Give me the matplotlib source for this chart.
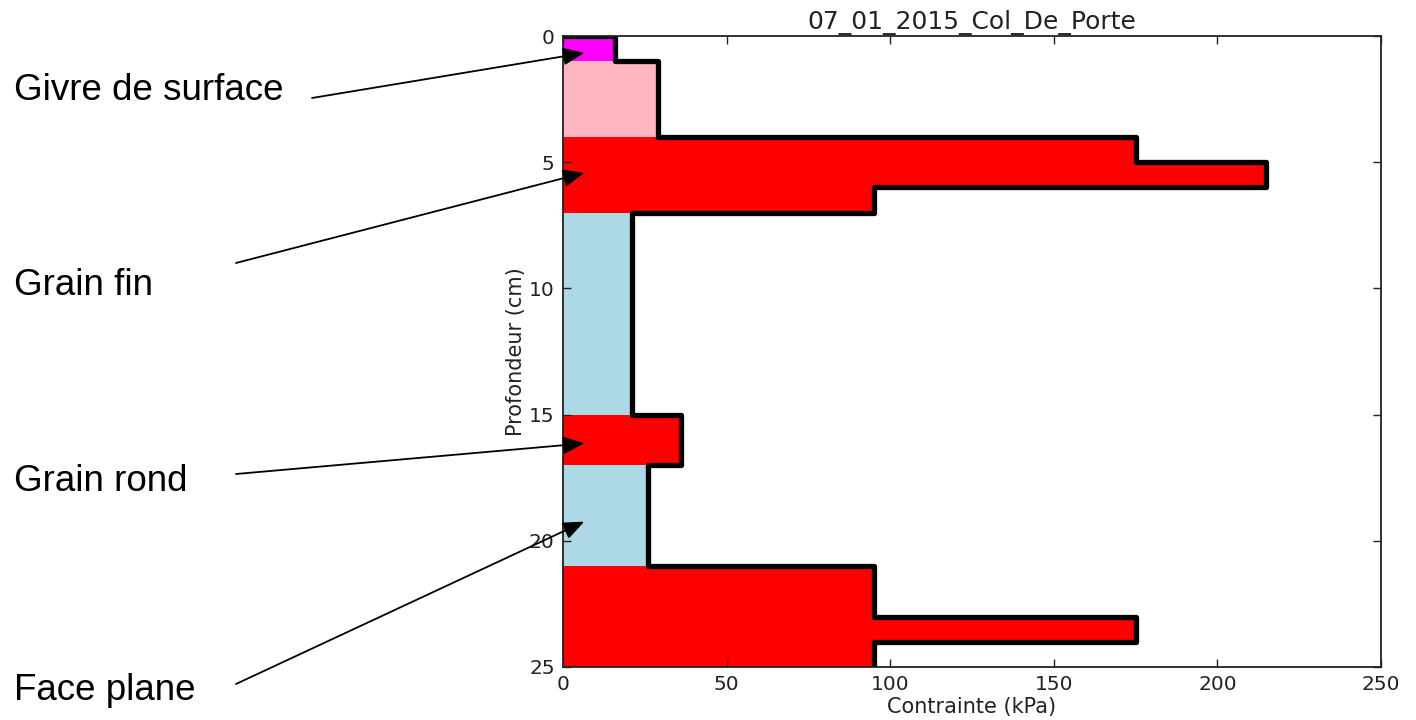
import matplotlib
matplotlib.use('Agg')
import matplotlib.pyplot as plt

# couches du profil (cm) et contrainte (kPa)
tops = [0, 1, 4, 5, 6, 7, 15, 17, 21, 23, 24]
bottoms = [1, 4, 5, 6, 7, 15, 17, 21, 23, 24, 25]
stress = [16, 29, 175, 215, 95, 21, 36, 26, 95, 175, 95]
colors = ['#ff00ff', '#ffb6c1', '#ff0000', '#ff0000', '#ff0000', '#add8e6',
          '#ff0000', '#add8e6', '#ff0000', '#ff0000', '#ff0000']

title = '07_01_2015_Col_De_Porte'

# légendes à gauche : texte, point visé (x kPa, y cm)
labels = ['Givre de surface', 'Grain fin', 'Grain rond', 'Face plane']
target_x = [6.5, 6.5, 6.5, 6.5]
target_y = [0.67, 5.42, 16.14, 19.24]

W, H = 1416, 720
fig = plt.figure(figsize=(W / 100, H / 100), dpi=100)
ax = fig.add_axes([563 / W, 1 - 667 / H, 818 / W, 631 / H])

heights = [b - t for t, b in zip(tops, bottoms)]
ax.barh(tops, stress, height=heights, left=0, align='edge',
        color=colors, edgecolor='none', linewidth=0)

# contour en escalier
xs, ys = [0], [0]
for t, b, v in zip(tops, bottoms, stress):
    xs += [v, v]
    ys += [t, b]
ax.plot(xs, ys, color='black', lw=3.8, solid_joinstyle='round',
        solid_capstyle='butt')

ax.set_xlim(0, 250)
ax.set_ylim(25, 0)
ax.set_xticks([0, 50, 100, 150, 200, 250])
ax.set_yticks([0, 5, 10, 15, 20, 25])
ax.tick_params(direction='in', length=6, width=1, labelsize=14.5,
               top=True, right=True, pad=6, colors='#222222')
for s in ax.spines.values():
    s.set_linewidth(1.3)
    s.set_color('#222222')
ax.set_xlabel('Contrainte (kPa)', fontsize=15, labelpad=2, color='#222222')
ax.set_ylabel('Profondeur (cm)', fontsize=15, labelpad=2, color='#222222')
ax.set_title(title, fontsize=18, pad=5, color='#222222')

# textes et flèches
text_base = [100, 295, 491, 700]
tails = [(312, 98), (236, 263), (236, 474), (236, 684)]
for lab, yb, (tx, ty), px, py in zip(labels, text_base, tails, target_x, target_y):
    fig.text(14 / W, 1 - yb / H, lab, fontsize=26.5, family='Liberation Sans',
             va='baseline', ha='left')
    ax.annotate('', xy=(px, py), xycoords='data',
                xytext=(tx / W, 1 - ty / H), textcoords='figure fraction',
                arrowprops=dict(arrowstyle='-|>,head_length=0.65,head_width=0.27',
                                color='black', lw=1.3, shrinkA=0, shrinkB=0,
                                mutation_scale=20),
                annotation_clip=False)

fig.savefig('out.png', dpi=100)
